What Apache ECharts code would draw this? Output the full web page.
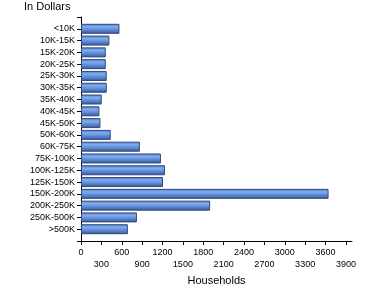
<!DOCTYPE html>
<html>
<head>
<meta charset="utf-8">
<script src="https://cdn.jsdelivr.net/npm/echarts@6/dist/echarts.min.js"></script>
<style>html,body{margin:0;padding:0;background:#fff}#c{width:370px;height:300px}</style>
</head>
<body>
<div id="c"></div>
<script>
var categories = ['<10K','10K-15K','15K-20K','20K-25K','25K-30K','30K-35K','35K-40K','40K-45K','45K-50K','50K-60K','60K-75K','75K-100K','100K-125K','125K-150K','150K-200K','200K-250K','250K-500K','>500K'];
var households = [566, 418, 365, 365, 379, 379, 305, 271, 286, 438, 867, 1177, 1236, 1207, 3645, 1901, 823, 690];
var xTicks = [0,300,600,900,1200,1500,1800,2100,2400,2700,3000,3300,3600,3900];

var cats = [''].concat(categories).concat(['']);
var vals = ['-'].concat(households).concat(['-']);
var font = 'Liberation Sans, Arial, sans-serif';

var chart = echarts.init(document.getElementById('c'), null, {renderer:'canvas'});
chart.setOption({
  animation: false,
  title: {text: 'In Dollars', left: 24, top: 1, padding: 0, textStyle: {fontFamily: font, fontSize: 11, fontWeight: 'normal', color: '#000'}},
  grid: {left: 81, right: 18, top: 17, bottom: 59, containLabel: false},
  xAxis: {
    type: 'value', min: 0, max: 3990, interval: 300,
    name: 'Households', nameLocation: 'middle', nameGap: 33,
    nameTextStyle: {fontFamily: font, fontSize: 11, color: '#000'},
    axisLine: {show: true, lineStyle: {color: '#000', width: 1}},
    axisTick: {show: true, length: 4, lineStyle: {color: '#000'}, customValues: xTicks},
    splitLine: {show: false},
    axisLabel: {
      customValues: xTicks, fontFamily: font, fontSize: 9, color: '#000', margin: 6, lineHeight: 12,
      formatter: function (v) { var i = xTicks.indexOf(v); return (i % 2 === 1) ? '\n' + v : String(v); }
    }
  },
  yAxis: {
    type: 'category', data: cats, inverse: true, boundaryGap: false,
    axisLine: {show: true, lineStyle: {color: '#000', width: 1}},
    axisTick: {show: true, length: 4, interval: 0, lineStyle: {color: '#000'}},
    axisLabel: {interval: 0, fontFamily: font, fontSize: 9, color: '#000', margin: 6}
  },
  series: [{
    type: 'bar', data: vals, barWidth: 10,
    itemStyle: {
      borderColor: '#2f4a7a', borderWidth: 1,
      color: new echarts.graphic.LinearGradient(0, 0, 0, 1, [
        {offset: 0, color: '#5079bf'},
        {offset: 0.3, color: '#82acf2'},
        {offset: 0.6, color: '#5f8bd6'},
        {offset: 1, color: '#36568e'}
      ])
    }
  }]
});
</script>
</body>
</html>
